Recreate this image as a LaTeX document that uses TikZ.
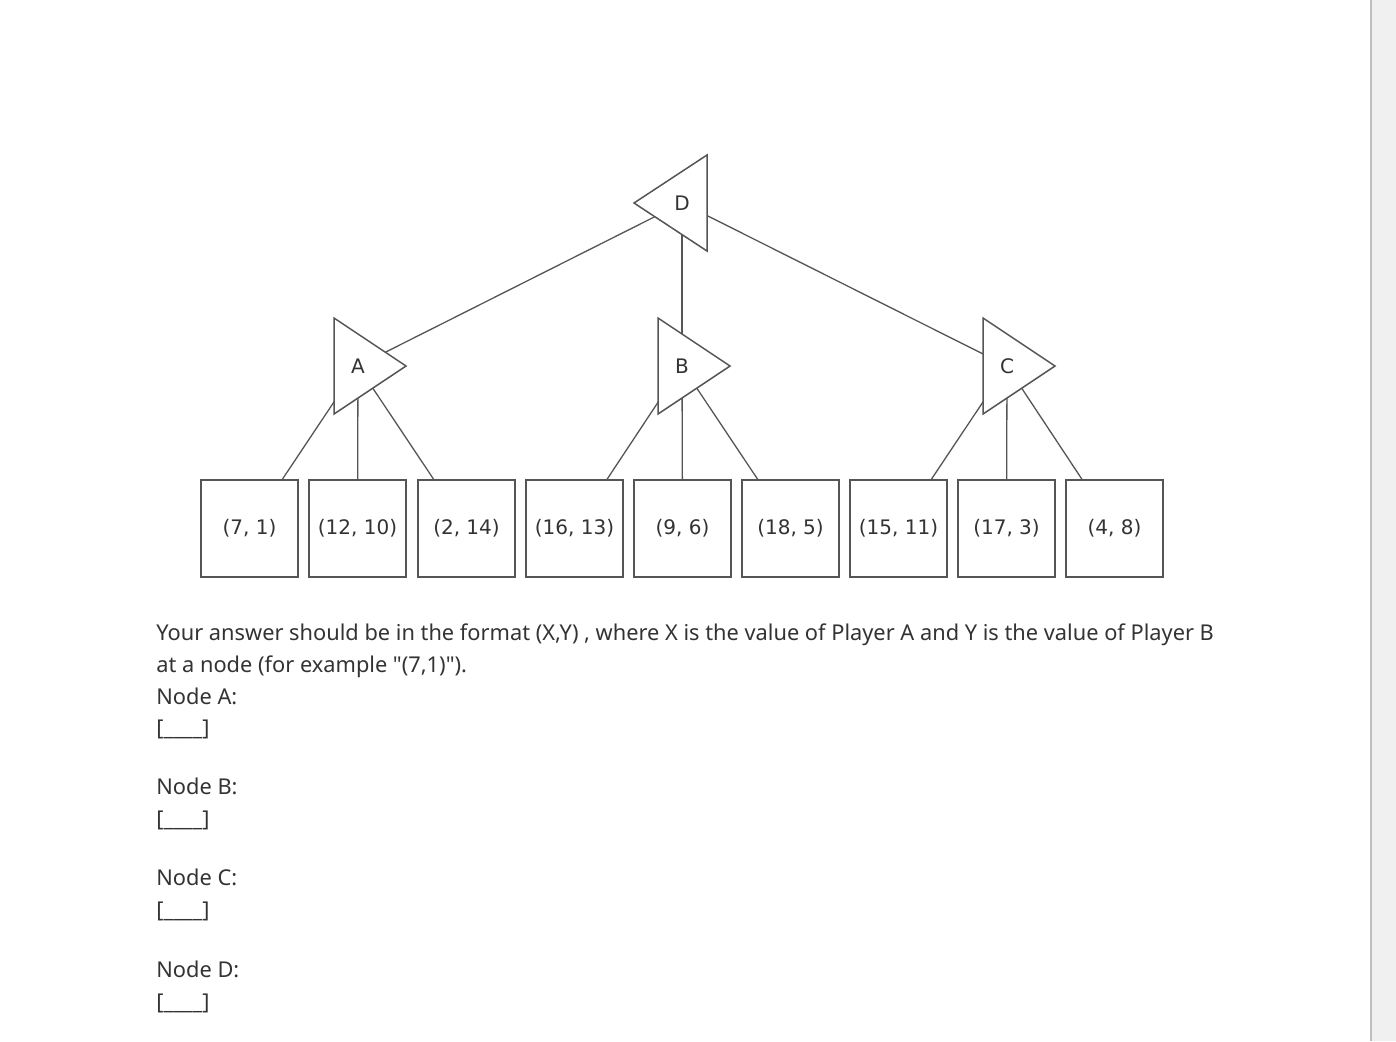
\documentclass[tikz,border=0pt]{standalone}
\usepackage{fontspec}
\newfontfamily\bodyfont{Noto Sans}
\newfontfamily\treefont{DejaVu Sans}
\usetikzlibrary{calc}
\pgfdeclarelayer{background}
\pgfsetlayers{background,main}
\definecolor{LineGray}{RGB}{85,85,85}
\definecolor{InkGray}{RGB}{51,51,51}
\definecolor{PanelGray}{RGB}{240,240,240}
\definecolor{RuleGray}{RGB}{190,190,190}
\tikzset{
  leaf/.style={rectangle,draw=LineGray,line width=0.75pt,fill=white,minimum size=48.5pt,
    inner sep=0pt,text=InkGray,font=\treefont\fontsize{10}{12}\selectfont},
  player/.style={inner sep=1pt,text=InkGray,font=\treefont\fontsize{10}{12}\selectfont},
  tri/.style={draw=LineGray,line width=0.75pt,fill=white,line join=miter},
  edge/.style={draw=LineGray,line width=0.65pt},
  prompt/.style={anchor=base west,inner sep=0pt,text=InkGray,font=\bodyfont\fontsize{10.9}{13}\selectfont},
}

\begin{document}
\begin{tikzpicture}[x=0.5pt,y=-0.5pt]
    \useasboundingbox (0,0) rectangle (1396,1041);
    \fill[PanelGray] (1371,0) rectangle (1396,1041);
    \draw[RuleGray,line width=1pt] (1371,0) -- (1371,1041);
    % players
    \node[player] (D) at (682,203) {D};
    \node[player] (A) at (358,366) {A};
    \node[player] (B) at (682,366) {B};
    \node[player] (C) at (1007,366) {C};
    % outcomes
    \foreach \i/\x/\t in {1/249.5/{(7, 1)},2/357.5/{(12, 10)},3/466.5/{(2, 14)},
        4/574.5/{(16, 13)},5/682.5/{(9, 6)},6/790.5/{(18, 5)},
        7/898.5/{(15, 11)},8/1006.5/{(17, 3)},9/1114.5/{(4, 8)}}
      \node[leaf] (l\i) at (\x,528.5) {\t};
    \begin{pgfonlayer}{background}
      \foreach \p/\q in {D/A,D/B,D/C,A/l1,A/l2,A/l3,B/l4,B/l5,B/l6,C/l7,C/l8,C/l9}
        \draw[edge] (\p.center) -- (\q);
      \foreach \n in {A,B,C}
        \draw[tri] ($(\n.center)+(-24,-48)$) -- ($(\n.center)+(-24,48)$)
          -- ($(\n.center)+(48,0)$) -- cycle;
      \draw[tri] ($(D.center)+(25,-48)$) -- ($(D.center)+(25,48)$)
        -- ($(D.center)+(-48,0)$) -- cycle;
    \end{pgfonlayer}
    % question text
    \node[prompt] (p1) at (156,640) {Your answer should be in the format (X,Y) , where X is the value of Player A and Y is the value of Player B};
    \node[prompt] (p2) at (156,672) {at a node (for example "(7,1)").};
    \node[prompt] (qa) at (156,704) {Node A:};
    \node[prompt] (ba) at (156,735) {[\_\_\_\_]};
    \node[prompt] (qb) at (156,794) {Node B:};
    \node[prompt] (bb) at (156,826) {[\_\_\_\_]};
    \node[prompt] (qc) at (156,885) {Node C:};
    \node[prompt] (bc) at (156,917) {[\_\_\_\_]};
    \node[prompt] (qd) at (156,977) {Node D:};
    \node[prompt] (bd) at (156,1009) {[\_\_\_\_]};
\end{tikzpicture}
\end{document}
